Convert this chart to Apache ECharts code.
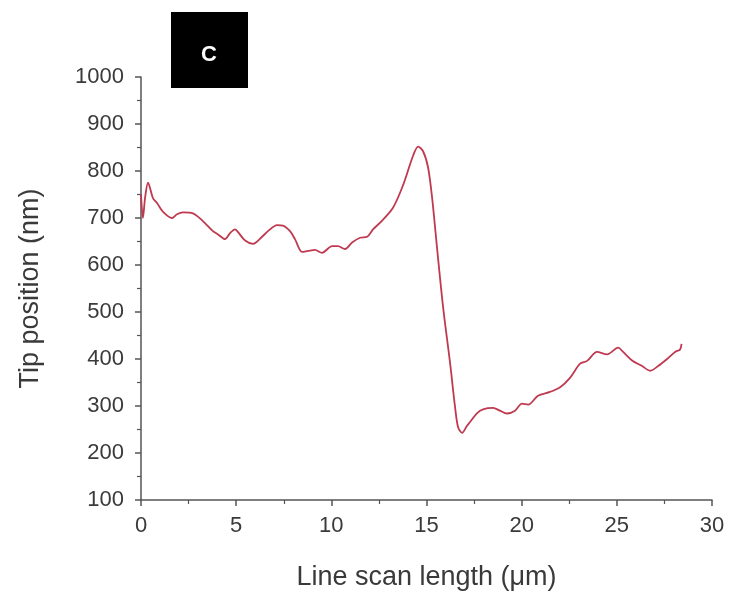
<!DOCTYPE html>
<html>
<head>
<meta charset="utf-8">
<script src="https://cdn.jsdelivr.net/npm/echarts@6/dist/echarts.min.js"></script>
<style>html,body{margin:0;padding:0;background:#fff}#c{width:740px;height:605px}</style>
</head>
<body>
<div id="c"></div>
<script>
const scanX = [0, 0.1, 0.22, 0.37, 0.63, 0.84, 1.16, 1.63, 1.89, 2.21, 2.73, 3.21, 3.78, 4.05, 4.41, 4.68, 4.94, 5.10, 5.47, 5.89, 6.36, 6.67, 7.15, 7.46, 7.83, 8.09, 8.46, 8.78, 9.14, 9.51, 10.04, 10.35, 10.72, 11.09, 11.51, 11.88, 12.19, 12.56, 13.24, 13.77, 14.29, 14.56, 14.82, 15.08, 15.29, 15.55, 15.87, 16.24, 16.50, 16.66, 16.87, 17.13, 17.29, 17.66, 17.97, 18.50, 18.86, 19.23, 19.65, 20.02, 20.34, 20.86, 21.49, 22.02, 22.54, 23.07, 23.44, 23.96, 24.49, 25.07, 25.33, 25.80, 26.33, 26.75, 27.17, 27.64, 28.06, 28.32, 28.4];
const tipPos = [750, 700, 745, 775, 742, 732, 713, 700, 708, 712, 710, 695, 672, 665, 655, 668, 676, 670, 652, 645, 660, 672, 685, 684, 672, 655, 628, 630, 632, 626, 640, 640, 634, 648, 658, 660, 676, 690, 722, 770, 832, 852, 842, 808, 745, 638, 511, 391, 298, 255, 243, 258, 266, 285, 293, 296, 290, 284, 290, 305, 303, 322, 330, 340, 360, 390, 396, 415, 410, 424, 415, 397, 385, 375, 385, 400, 415, 420, 432];
const xTicks = [0, 5, 10, 15, 20, 25, 30];
const yTicks = [100, 200, 300, 400, 500, 600, 700, 800, 900, 1000];

const chart = echarts.init(document.getElementById('c'), null, {renderer: 'canvas'});
const axisColor = '#555';
const labelFont = {fontFamily: 'Liberation Sans', fontSize: 22, color: '#3a3a3a'};
const nameFont = {fontFamily: 'Liberation Sans', fontSize: 27, color: '#3a3a3a'};
const plain = v => String(v);
chart.setOption({
  animation: false,
  backgroundColor: '#fff',
  grid: {left: 141, right: 28, top: 77, bottom: 105, containLabel: false},
  xAxis: {
    type: 'value', min: xTicks[0], max: xTicks[xTicks.length - 1], interval: 5,
    name: 'Line scan length (\u03bcm)', nameLocation: 'middle', nameGap: 64,
    nameTextStyle: nameFont,
    axisLine: {lineStyle: {color: axisColor, width: 1.5}},
    axisTick: {show: true, inside: false, length: 6, lineStyle: {color: axisColor, width: 1.5}},
    minorTick: {show: true, splitNumber: 2, length: 4, lineStyle: {color: axisColor, width: 1.2}},
    axisLabel: Object.assign({margin: 15, formatter: plain}, labelFont),
    splitLine: {show: false}
  },
  yAxis: {
    type: 'value', min: yTicks[0], max: yTicks[yTicks.length - 1], interval: 100,
    name: 'Tip position (nm)', nameLocation: 'middle', nameGap: 97, nameRotate: 90,
    nameTextStyle: nameFont,
    axisLine: {show: true, lineStyle: {color: axisColor, width: 1.5}},
    axisTick: {show: true, inside: false, length: 6, lineStyle: {color: axisColor, width: 1.5}},
    minorTick: {show: true, splitNumber: 2, length: 4, lineStyle: {color: axisColor, width: 1.2}},
    axisLabel: Object.assign({margin: 17, formatter: plain}, labelFont),
    splitLine: {show: false}
  },
  series: [{
    type: 'line',
    data: scanX.map((x, i) => [x, tipPos[i]]),
    showSymbol: false,
    smooth: 0.3,
    lineStyle: {color: '#bf3a50', width: 1.8},
    z: 3
  }],
  graphic: [
    {type: 'rect', left: 171, top: 12, shape: {width: 77, height: 76}, style: {fill: '#000'}},
    {type: 'text', left: 201, top: 44, style: {text: 'C', fill: '#fff', font: 'bold 22px "Liberation Sans"'}}
  ]
});
</script>
</body>
</html>
